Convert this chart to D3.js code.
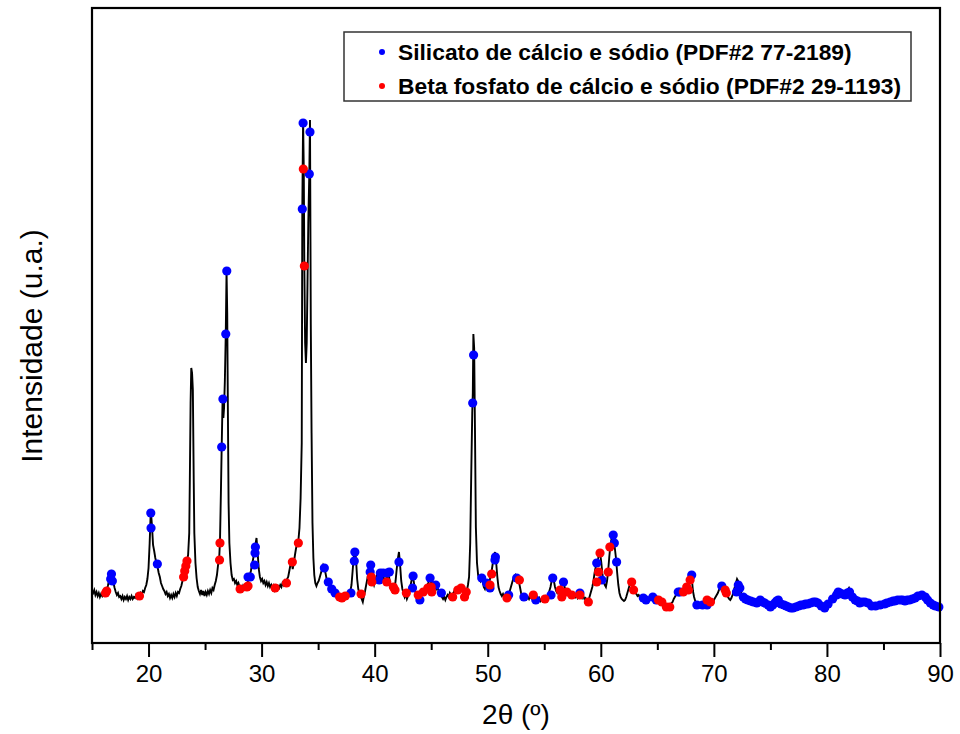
<!DOCTYPE html>
<html><head><meta charset="utf-8">
<script src="https://cdn.jsdelivr.net/npm/d3@7"></script>
<style>body{margin:0;background:#fff}svg{display:block}text{font-family:"Liberation Sans",Arial,sans-serif}</style>
</head><body><svg id="c" width="960" height="734"></svg>
<script>
// XRD pattern: [2theta, intensity (a.u.)]
const pattern = [
[15.0,52],[15.1,50],[15.2,53],[15.3,48],[15.4,51],[15.5,47],[15.6,50],[15.7,46],[15.8,49],[15.9,47],[16.0,50],[16.1,48],[16.2,52],[16.3,53],[16.4,57],[16.5,62],[16.6,66],[16.7,70],[16.8,66],[16.9,60],
[17.0,55],[17.1,51],[17.2,48],[17.3,50],[17.4,46],[17.5,47],[17.6,44],[17.7,47],[17.8,43],[17.9,46],[18.0,44],[18.1,47],[18.2,43],[18.3,46],[18.4,44],[18.5,47],[18.6,44],[18.7,46],[18.8,45],[18.9,48],
[19.0,45],[19.1,48],[19.2,47],[19.3,50],[19.4,48],[19.5,52],[19.6,51],[19.7,55],[19.8,58],[19.9,64],[20.0,75],[20.1,100],[20.2,133],[20.3,118],[20.4,98],[20.5,92],[20.6,85],[20.7,80],[20.8,76],[20.9,70],
[21.0,66],[21.1,60],[21.2,57],[21.3,54],[21.4,52],[21.5,49],[21.6,51],[21.7,47],[21.8,49],[21.9,45],[22.0,48],[22.1,45],[22.2,49],[22.3,46],[22.4,50],[22.5,47],[22.6,51],[22.7,50],[22.8,54],[22.9,57],
[23.0,62],[23.1,66],[23.2,72],[23.3,78],[23.4,82],[23.5,88],[23.6,110],[23.65,160],[23.72,240],[23.78,275],[23.85,270],[23.92,253],[24.0,160],[24.05,110],[24.15,80],[24.25,65],[24.35,56],[24.45,52],
[24.55,49],[24.65,53],[24.75,48],[24.85,52],[24.95,47],[25.05,51],[25.15,48],[25.25,52],[25.35,49],[25.45,53],[25.55,50],[25.65,55],[25.75,53],[25.85,58],[25.95,62],[26.05,68],[26.15,78],[26.25,85],[26.32,102],
[26.4,150],[26.47,196],[26.55,244],[26.62,225],[26.68,235],[26.75,262],[26.83,309],[26.9,372],[26.96,330],[27.02,230],[27.08,140],[27.15,100],[27.25,80],[27.35,68],[27.45,63],[27.55,64],[27.65,60],[27.75,62],
[27.85,58],[27.95,60],[28.05,56],[28.15,57],[28.25,54],[28.35,57],[28.45,54],[28.55,57],[28.65,56],[28.75,60],[28.85,64],[28.95,67],[29.05,72],[29.15,78],[29.25,84],[29.35,90],[29.45,98],[29.55,105],[29.65,90],
[29.75,74],[29.85,66],[29.95,62],[30.05,64],[30.15,60],[30.25,62],[30.35,58],[30.45,61],[30.55,57],[30.65,60],[30.75,56],[30.85,58],[30.95,54],[31.05,57],[31.15,53],[31.25,56],[31.35,54],[31.45,57],[31.55,55],
[31.65,58],[31.75,56],[31.85,60],[31.95,58],[32.05,62],[32.15,60],[32.25,64],[32.35,66],[32.45,72],[32.55,78],[32.65,82],[32.75,74],[32.85,80],[32.95,88],[33.05,95],[33.15,98],[33.25,102],[33.35,115],[33.45,145],
[33.55,200],[33.6,434],[33.67,523],[33.73,474],[33.78,377],[33.85,300],[33.92,280],[33.99,300],[34.06,360],[34.13,420],[34.22,470],[34.28,523],[34.35,320],[34.42,210],[34.5,120],[34.58,85],[34.66,68],[34.75,60],
[34.85,57],[34.95,60],[35.05,62],[35.15,66],[35.25,70],[35.35,74],[35.45,78],[35.55,76],[35.65,70],[35.75,64],[35.85,62],[35.95,60],[36.05,58],[36.15,55],[36.25,52],[36.35,51],[36.45,50],[36.55,48],[36.65,50],
[36.75,46],[36.85,48],[36.95,45],[37.05,47],[37.15,44],[37.25,46],[37.35,44],[37.45,47],[37.55,46],[37.65,49],[37.75,48],[37.85,52],[37.95,58],[38.05,72],[38.15,86],[38.25,95],[38.35,84],[38.45,64],[38.55,54],
[38.65,50],[38.75,47],[38.85,44],[38.95,41],[39.05,47],[39.15,52],[39.25,58],[39.35,64],[39.45,70],[39.55,76],[39.65,79],[39.75,70],[39.85,62],[39.95,58],[40.05,62],[40.15,66],[40.25,70],[40.35,64],[40.45,68],
[40.55,72],[40.65,64],[40.75,68],[40.85,62],[40.95,64],[41.05,62],[41.15,70],[41.25,68],[41.35,60],[41.45,55],[41.55,52],[41.65,56],[41.75,54],[41.85,62],[41.95,74],[42.05,84],[42.15,91],[42.25,78],[42.35,62],
[42.45,54],[42.55,50],[42.65,46],[42.75,49],[42.85,44],[42.95,47],[43.05,52],[43.15,56],[43.25,62],[43.35,66],[43.45,62],[43.55,54],[43.65,48],[43.75,46],[43.85,47],[43.95,43],[44.05,47],[44.15,50],[44.25,52],
[44.35,50],[44.45,54],[44.55,56],[44.65,58],[44.75,60],[44.85,66],[44.95,62],[45.05,58],[45.15,60],[45.25,56],[45.35,58],[45.45,54],[45.55,56],[45.65,52],[45.75,50],[45.85,48],[45.95,46],[46.05,44],[46.15,46],
[46.25,43],[46.35,46],[46.45,48],[46.55,46],[46.65,50],[46.75,48],[46.85,46],[46.95,50],[47.05,52],[47.15,50],[47.25,53],[47.35,54],[47.45,52],[47.55,55],[47.65,54],[47.75,52],[47.85,50],[47.95,48],[48.05,50],
[48.15,52],[48.25,58],[48.35,66],[48.45,100],[48.55,175],[48.63,230],[48.68,250],[48.73,309],[48.8,295],[48.87,215],[48.95,116],[49.05,80],[49.15,68],[49.25,64],[49.35,62],[49.45,66],[49.55,62],[49.65,56],
[49.75,54],[49.85,58],[49.95,60],[50.05,58],[50.15,62],[50.25,66],[50.35,72],[50.45,80],[50.55,88],[50.65,91],[50.75,80],[50.85,66],[50.95,56],[51.05,52],[51.15,49],[51.25,47],[51.35,49],[51.45,46],[51.55,47],
[51.65,44],[51.75,46],[51.85,48],[51.95,52],[52.05,56],[52.15,60],[52.25,64],[52.35,66],[52.45,68],[52.55,66],[52.65,64],[52.75,62],[52.85,56],[52.95,50],[53.05,46],[53.15,48],[53.25,45],[53.35,47],[53.45,44],
[53.55,46],[53.65,44],[53.75,47],[53.85,45],[53.95,48],[54.05,46],[54.15,48],[54.25,44],[54.35,46],[54.45,43],[54.55,45],[54.65,42],[54.75,44],[54.85,42],[54.95,45],[55.05,44],[55.15,47],[55.25,46],[55.35,48],
[55.45,52],[55.55,56],[55.65,62],[55.75,66],[55.85,62],[55.95,56],[56.05,52],[56.15,50],[56.25,52],[56.35,54],[56.45,56],[56.55,58],[56.65,62],[56.75,58],[56.85,54],[56.95,52],[57.05,51],[57.15,48],[57.25,50],
[57.35,47],[57.45,49],[57.55,46],[57.65,48],[57.75,46],[57.85,48],[57.95,45],[58.05,47],[58.15,48],[58.25,47],[58.35,45],[58.45,47],[58.55,44],[58.65,45],[58.75,42],[58.85,41],[58.95,44],[59.05,48],[59.15,52],
[59.25,56],[59.35,62],[59.45,70],[59.55,76],[59.65,81],[59.75,84],[59.85,88],[59.93,91],[60.05,80],[60.15,68],[60.25,62],[60.35,58],[60.45,56],[60.55,62],[60.65,72],[60.75,86],[60.85,98],[60.95,104],[61.05,108],
[61.15,102],[61.25,94],[61.35,84],[61.45,70],[61.55,58],[61.65,50],[61.75,46],[61.85,44],[61.95,43],[62.05,42],[62.15,43],[62.25,46],[62.35,50],[62.45,54],[62.55,58],[62.65,60],[62.75,60],[62.85,55],[62.95,52],
[63.05,50],[63.15,49],[63.25,47],[63.35,48],[63.45,46],[63.55,47],[63.65,45],[63.75,46],[63.85,44],[63.95,45],[64.05,43],[64.15,45],[64.25,44],[64.35,46],[64.45,45],[64.55,46],[64.65,44],[64.75,44],[64.85,42],
[64.95,43],[65.05,43],[65.15,42],[65.25,41],[65.35,41],[65.45,39],[65.55,38],[65.65,37],[65.75,36],[65.85,37],[65.95,36],[66.05,37],[66.15,38],[66.25,40],[66.35,41],[66.45,44],[66.55,46],[66.65,48],[66.75,50],
[66.85,52],[66.95,51],[67.05,52],[67.15,53],[67.25,52],[67.35,54],[67.45,55],[67.55,56],[67.65,58],[67.75,60],[67.85,65],[67.95,68],[68.05,64],[68.15,52],[68.25,46],[68.35,42],[68.45,40],[68.55,38],[68.65,39],
[68.75,37],[68.85,38],[68.95,37],[69.05,38],[69.15,37],[69.25,39],[69.35,40],[69.45,42],[69.55,41],[69.65,41],[69.75,40],[69.85,42],[69.95,41],[70.05,44],[70.15,46],[70.25,48],[70.35,50],[70.45,53],[70.55,55],
[70.65,57],[70.75,57],[70.85,55],[70.95,54],[71.05,52],[71.15,49],[71.25,46],[71.35,44],[71.45,43],[71.55,45],[71.65,48],[71.75,52],[71.85,56],[71.95,60],[72.05,64],[72.15,62],[72.25,56],[72.35,52],[72.45,49],
[72.55,47],[72.65,46],[72.75,45],[72.85,44],[72.95,43],[73.05,44],[73.15,43],[73.25,42],[73.35,43],[73.45,41],[73.55,40],[73.65,39],[73.75,40],[73.85,41],[73.95,42],[74.05,43],[74.15,42],[74.25,41],[74.35,40],
[74.45,39],[74.55,40],[74.65,38],[74.75,37],[74.85,38],[74.95,36],[75.05,37],[75.15,38],[75.25,40],[75.35,41],[75.45,42],[75.55,43],[75.65,43],[75.75,41],[75.85,39],[75.95,38],[76.05,37],[76.15,38],[76.25,37],
[76.35,36],[76.45,35],[76.55,36],[76.65,35],[76.75,34],[76.85,35],[76.95,34],[77.05,35],[77.15,36],[77.25,37],[77.35,36],[77.45,37],[77.55,38],[77.65,37],[77.75,38],[77.85,39],[77.95,38],[78.05,39],[78.15,40],
[78.25,39],[78.35,40],[78.45,41],[78.55,40],[78.65,41],[78.75,42],[78.85,41],[78.95,40],[79.05,40],[79.15,39],[79.25,38],[79.35,38],[79.45,37],[79.55,36],[79.65,35],[79.75,35],[79.85,36],[79.95,38],[80.05,40],
[80.15,41],[80.25,40],[80.35,42],[80.45,44],[80.55,46],[80.65,47],[80.75,49],[80.85,52],[80.95,53],[81.05,52],[81.15,50],[81.25,51],[81.35,49],[81.45,48],[81.55,49],[81.65,50],[81.75,52],[81.85,53],[81.95,55],
[82.05,52],[82.15,49],[82.25,46],[82.35,44],[82.45,43],[82.55,42],[82.65,42],[82.75,41],[82.85,40],[82.95,41],[83.05,40],[83.15,41],[83.25,42],[83.35,41],[83.45,40],[83.55,39],[83.65,40],[83.75,38],[83.85,37],
[83.95,36],[84.05,36],[84.15,37],[84.25,37],[84.35,38],[84.45,37],[84.55,38],[84.65,38],[84.75,39],[84.85,39],[84.95,40],[85.05,39],[85.15,40],[85.25,41],[85.35,40],[85.45,41],[85.55,41],[85.65,42],[85.75,41],
[85.85,42],[85.95,42],[86.05,41],[86.15,42],[86.25,43],[86.35,42],[86.45,43],[86.55,42],[86.65,43],[86.75,42],[86.85,41],[86.95,42],[87.05,43],[87.15,42],[87.25,43],[87.35,43],[87.45,44],[87.55,44],[87.65,45],
[87.75,45],[87.85,46],[87.95,47],[88.05,47],[88.15,48],[88.25,48],[88.35,47],[88.45,46],[88.55,46],[88.65,45],[88.75,43],[88.85,42],[88.95,41],[89.05,40],[89.15,39],[89.25,38],[89.35,38],[89.45,37],[89.55,37],
[89.65,36],[89.75,36],[89.85,36],[89.95,36]
];
// Silicato de cálcio e sódio (PDF#2 77-2189) markers
const silicato = [
[16.65,64],[16.72,69],[16.8,62],[20.2,130],[20.22,115],[20.78,79],[26.47,196],[26.58,244],[26.83,309],[26.92,372],
[28.8,66],[29.0,66],[29.38,78],[29.42,90],[29.45,96],[33.6,434],[33.67,520],[34.22,469],[34.28,511],
[35.55,75],[35.9,61],[36.2,54],[36.5,50],[37.9,50],[38.2,82],[38.25,91],[39.65,78],[39.6,71],[40.4,63],[40.5,70],[40.76,70],[41.1,70],[41.3,71],
[42.15,81],[43.35,55],[43.4,67],[44.0,43],[44.9,65],[45.4,58],[45.9,50],[48.67,240],[48.75,288],[49.47,65],[49.9,60],[50.2,55],[50.64,83],[50.68,86],
[51.85,48],[52.56,65],[53.2,46],[54.25,43],[55.6,48],[55.75,65],[56.7,61],[58.15,50],[59.64,80],[60.1,63],[61.1,108],[61.2,100],[61.4,81],
[63.76,45],[64.0,43],[64.6,46],[64.9,43],[66.85,51],[67.0,51],[68.04,68],[68.5,38],[69.0,38],[69.4,38],[70.7,57],
[72.0,51],[72.16,58],[72.3,55],[72.6,46],[72.8,44],[73.0,43],[73.25,42],[73.5,41],[73.8,40],[74.1,43],[74.3,41],[74.5,40],[74.8,38],[75.0,36],
[75.2,38],[75.4,40],[75.55,42],[75.7,43],[75.95,39],[76.2,38],[76.4,37],[76.6,36],[76.8,35],[77.0,35],[77.25,36],
[77.5,37],[77.7,38],[77.9,38],[78.1,39],[78.3,39],[78.55,40],[78.8,41],[79.0,41],[79.2,40],[79.5,37],[79.8,35],[80.1,39],[80.5,44],
[80.85,48],[81.0,51],[81.15,50],[81.35,49],[81.6,48],[81.8,50],[82.0,51],[82.25,46],[82.5,43],[82.7,42],[82.9,40],[83.1,41],[83.35,41],
[83.65,40],[83.95,37],[84.3,37],[84.7,38],[85.1,39],[85.3,40],[85.6,41],[85.85,42],[86.0,42],[86.25,43],[86.5,43],[86.7,43],[86.9,42],
[87.1,43],[87.3,43],[87.55,44],[87.8,45],[88.05,47],[88.4,48],[88.7,46],[88.9,43],[89.15,40],[89.4,38],[89.6,37],[89.9,36]
];
// Beta fosfato de cálcio e sódio (PDF#2 29-1193) markers
const fosfato = [
[16.2,50],[16.3,52],[19.2,47],[23.1,66],[23.2,72],[23.3,77],[23.4,82],[26.28,83],[26.32,100],[28.1,54],[28.7,56],[28.8,57],
[31.2,55],[32.2,60],[32.72,81],[33.25,100],[33.69,474],[33.78,377],[36.9,46],[37.1,45],[37.4,47],[38.8,49],[39.7,66],[39.75,61],
[41.07,61],[41.65,56],[41.8,53],[42.8,50],[43.85,48],[44.3,51],[44.7,55],[45.0,56],[45.05,51],[46.9,46],[47.35,53],[47.65,55],[47.95,46],[48.1,51],
[50.2,58],[50.35,69],[51.7,45],[52.8,63],[54.03,48],[55.06,44],[56.4,53],[56.55,46],[57.0,51],[57.43,48],[58.15,48],[58.9,41],
[59.64,61],[59.8,71],[59.93,90],[60.66,71],[60.8,96],[62.73,61],[62.9,53],[65.1,43],[65.4,41],[65.8,36],[66.1,36],
[67.3,51],[67.6,56],[67.75,53],[67.9,63],[69.4,43],[69.7,41],[71.0,53],[71.1,50]
];
const xTicks = [20,30,40,50,60,70,80,90];
const xMinorTicks = [15,25,35,45,55,65,75,85];
const legendLabels = ["Silicato de cálcio e sódio (PDF#2 77-2189)", "Beta fosfato de cálcio e sódio (PDF#2 29-1193)"];
const seriesColors = ["#0000ff", "#ff0000"];

const svg = d3.select("#c");
const L = 92, R = 940, T = 8, B = 643;
const x = d3.scaleLinear().domain([15, 90]).range([L, R]);
const y = d3.scaleLinear().domain([0, 635]).range([B, T]);

// curve
svg.append("path").datum(pattern)
  .attr("d", d3.line().x(d => x(d[0])).y(d => y(d[1])))
  .attr("fill", "none").attr("stroke", "#000").attr("stroke-width", 1.9).attr("stroke-linejoin", "miter");

// markers
[silicato, fosfato].forEach((s, i) => {
  svg.append("g").selectAll("circle").data(s).join("circle")
    .attr("cx", d => x(d[0])).attr("cy", d => y(d[1])).attr("r", 4.6)
    .attr("fill", seriesColors[i]);
});

// x axis
const xAxis = svg.append("g").attr("transform", `translate(0,${B})`)
  .call(d3.axisBottom(x).tickValues(xTicks).tickSize(14).tickPadding(8).tickFormat(d3.format("d")));
xAxis.select(".domain").remove();
xAxis.selectAll("line").attr("stroke", "#000").attr("stroke-width", 2);
xAxis.selectAll("text").attr("font-size", 24).attr("fill", "#000").attr("font-family", '"Liberation Sans",Arial,sans-serif');
const xMinor = svg.append("g").attr("transform", `translate(0,${B})`)
  .call(d3.axisBottom(x).tickValues(xMinorTicks).tickSize(7).tickFormat(""));
xMinor.select(".domain").remove();
xMinor.selectAll("line").attr("stroke", "#000").attr("stroke-width", 2);

// frame
svg.append("rect").attr("x", L).attr("y", T).attr("width", R - L).attr("height", B - T)
  .attr("fill", "none").attr("stroke", "#000").attr("stroke-width", 2.2);

// titles
svg.append("text").attr("x", 516).attr("y", 724).attr("text-anchor", "middle")
  .attr("font-size", 28).attr("fill", "#000").text("2θ (º)");
svg.append("text").attr("transform", "translate(42,346) rotate(-90)").attr("text-anchor", "middle")
  .attr("font-size", 30).attr("fill", "#000").text("Intensidade (u.a.)");

// legend
const lg = svg.append("g");
lg.append("rect").attr("x", 344).attr("y", 32).attr("width", 567).attr("height", 69)
  .attr("fill", "#fff").attr("stroke", "#333").attr("stroke-width", 1.5);
legendLabels.forEach((t, i) => {
  const cy = 52 + i * 34;
  lg.append("circle").attr("cx", 382).attr("cy", cy).attr("r", 3).attr("fill", seriesColors[i]);
  lg.append("text").attr("x", 398).attr("y", cy + 8).attr("font-size", 22.8).attr("font-weight", "bold")
    .attr("fill", "#000").text(t);
});
</script></body></html>
